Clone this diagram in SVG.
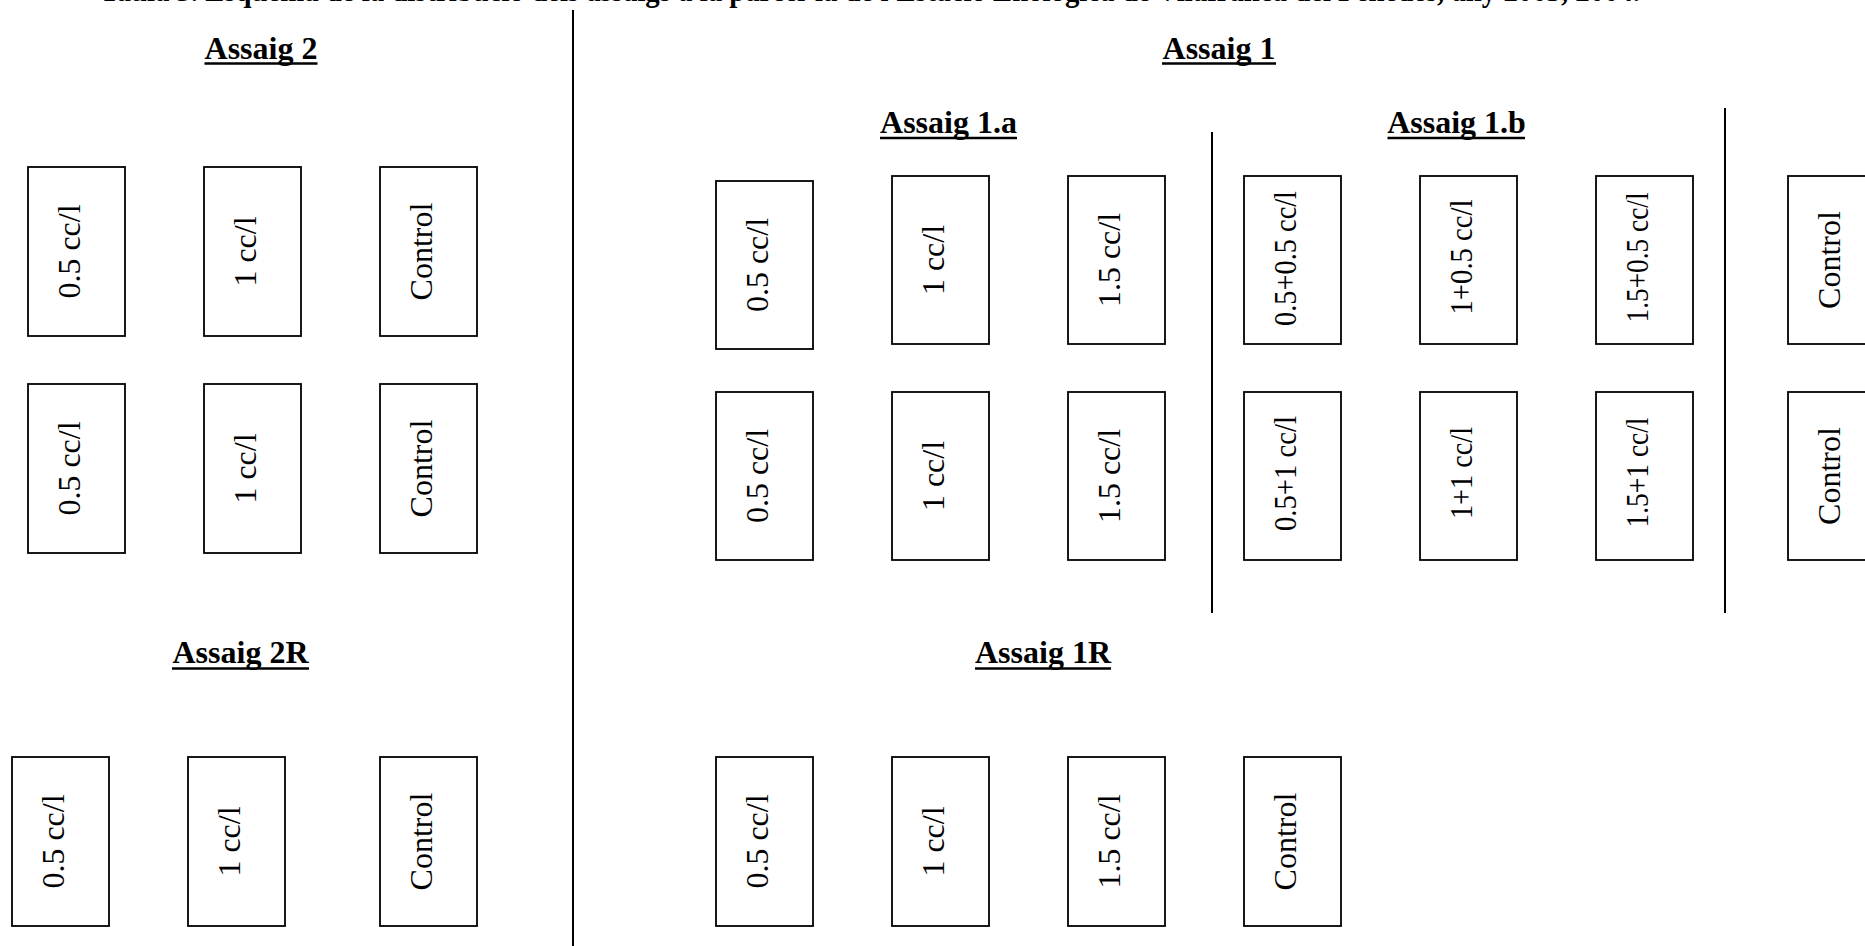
<svg xmlns="http://www.w3.org/2000/svg" width="1865" height="946" viewBox="0 0 1865 946">
<style>
  .box { fill: #fff; stroke: #000; stroke-width: 1.8; }
  .lbl { font-family: "Liberation Serif", "Times New Roman", serif; font-size: 32px; fill: #000; text-anchor: middle; }
  .hd { font-family: "Liberation Serif", "Times New Roman", serif; font-size: 32px; font-weight: bold; fill: #000; text-anchor: middle; }
  .title { font-family: "Liberation Serif", "Times New Roman", serif; font-size: 32px; font-weight: bold; fill: #000; }
  .ul { stroke: #000; stroke-width: 2.6; }
  .div { stroke: #000; stroke-width: 2; }
</style>
<rect width="1865" height="946" fill="#fff"/>

<text class="title" x="100" y="0.5" textLength="1540" lengthAdjust="spacingAndGlyphs">Taula 5. Esquema de la distribució dels assaigs a la parcel·la de l'Estació Enològica de Vilafranca del Penedès, any 2003, 2004.</text>

<g id="connectors">
  <line class="div" x1="573" y1="10" x2="573" y2="946"/>
  <line class="div" x1="1212" y1="132" x2="1212" y2="613"/>
  <line class="div" x1="1725" y1="108" x2="1725" y2="613"/>
</g>

<g id="headings">
  <g id="h-assaig2"><text class="hd" x="261" y="59">Assaig 2</text><line class="ul" x1="204.5" y1="63.5" x2="317.5" y2="63.5"/></g>
  <g id="h-assaig1"><text class="hd" x="1219" y="59">Assaig 1</text><line class="ul" x1="1162" y1="63.5" x2="1276" y2="63.5"/></g>
  <g id="h-assaig1a"><text class="hd" x="948.5" y="133">Assaig 1.a</text><line class="ul" x1="880" y1="138" x2="1017" y2="138"/></g>
  <g id="h-assaig1b"><text class="hd" x="1456.5" y="133">Assaig 1.b</text><line class="ul" x1="1387.5" y1="138" x2="1525" y2="138"/></g>
  <g id="h-assaig2r"><text class="hd" x="240.5" y="663">Assaig 2R</text><line class="ul" x1="172" y1="668.5" x2="309" y2="668.5"/></g>
  <g id="h-assaig1r"><text class="hd" x="1043" y="663">Assaig 1R</text><line class="ul" x1="975" y1="668.5" x2="1111" y2="668.5"/></g>
</g>

<!-- Assaig 2 -->
<g id="a2-r1c1"><rect class="box" x="28" y="167" width="97" height="169"/><text class="lbl" transform="translate(80,251.5) rotate(-90)">0.5 cc/l</text></g>
<g id="a2-r1c2"><rect class="box" x="204" y="167" width="97" height="169"/><text class="lbl" transform="translate(256,251.5) rotate(-90)">1 cc/l</text></g>
<g id="a2-r1c3"><rect class="box" x="380" y="167" width="97" height="169"/><text class="lbl" transform="translate(432,251.5) rotate(-90)">Control</text></g>
<g id="a2-r2c1"><rect class="box" x="28" y="384" width="97" height="169"/><text class="lbl" transform="translate(80,468.5) rotate(-90)">0.5 cc/l</text></g>
<g id="a2-r2c2"><rect class="box" x="204" y="384" width="97" height="169"/><text class="lbl" transform="translate(256,468.5) rotate(-90)">1 cc/l</text></g>
<g id="a2-r2c3"><rect class="box" x="380" y="384" width="97" height="169"/><text class="lbl" transform="translate(432,468.5) rotate(-90)">Control</text></g>

<!-- Assaig 2R -->
<g id="a2r-c1"><rect class="box" x="12" y="757" width="97" height="169"/><text class="lbl" transform="translate(64,841.5) rotate(-90)">0.5 cc/l</text></g>
<g id="a2r-c2"><rect class="box" x="188" y="757" width="97" height="169"/><text class="lbl" transform="translate(240,841.5) rotate(-90)">1 cc/l</text></g>
<g id="a2r-c3"><rect class="box" x="380" y="757" width="97" height="169"/><text class="lbl" transform="translate(432,841.5) rotate(-90)">Control</text></g>

<!-- Assaig 1.a -->
<g id="a1a-r1c1"><rect class="box" x="716" y="181" width="97" height="168"/><text class="lbl" transform="translate(768,265) rotate(-90)">0.5 cc/l</text></g>
<g id="a1a-r1c2"><rect class="box" x="892" y="176" width="97" height="168"/><text class="lbl" transform="translate(944,260) rotate(-90)">1 cc/l</text></g>
<g id="a1a-r1c3"><rect class="box" x="1068" y="176" width="97" height="168"/><text class="lbl" transform="translate(1120,260) rotate(-90)">1.5 cc/l</text></g>
<g id="a1a-r2c1"><rect class="box" x="716" y="392" width="97" height="168"/><text class="lbl" transform="translate(768,476) rotate(-90)">0.5 cc/l</text></g>
<g id="a1a-r2c2"><rect class="box" x="892" y="392" width="97" height="168"/><text class="lbl" transform="translate(944,476) rotate(-90)">1 cc/l</text></g>
<g id="a1a-r2c3"><rect class="box" x="1068" y="392" width="97" height="168"/><text class="lbl" transform="translate(1120,476) rotate(-90)">1.5 cc/l</text></g>

<!-- Assaig 1.b -->
<g id="a1b-r1c1"><rect class="box" x="1244" y="176" width="97" height="168"/><text class="lbl" transform="translate(1296,258.5) rotate(-90)" textLength="135" lengthAdjust="spacingAndGlyphs">0.5+0.5 cc/l</text></g>
<g id="a1b-r1c2"><rect class="box" x="1420" y="176" width="97" height="168"/><text class="lbl" transform="translate(1472,257) rotate(-90)" textLength="115" lengthAdjust="spacingAndGlyphs">1+0.5 cc/l</text></g>
<g id="a1b-r1c3"><rect class="box" x="1596" y="176" width="97" height="168"/><text class="lbl" transform="translate(1648,257.5) rotate(-90)" textLength="130" lengthAdjust="spacingAndGlyphs">1.5+0.5 cc/l</text></g>
<g id="a1b-r2c1"><rect class="box" x="1244" y="392" width="97" height="168"/><text class="lbl" transform="translate(1296,473.5) rotate(-90)" textLength="115" lengthAdjust="spacingAndGlyphs">0.5+1 cc/l</text></g>
<g id="a1b-r2c2"><rect class="box" x="1420" y="392" width="97" height="168"/><text class="lbl" transform="translate(1472,473) rotate(-90)" textLength="92" lengthAdjust="spacingAndGlyphs">1+1 cc/l</text></g>
<g id="a1b-r2c3"><rect class="box" x="1596" y="392" width="97" height="168"/><text class="lbl" transform="translate(1648,472.5) rotate(-90)" textLength="110" lengthAdjust="spacingAndGlyphs">1.5+1 cc/l</text></g>

<!-- Control column -->
<g id="a1-ctrl1"><rect class="box" x="1788" y="176" width="97" height="168"/><text class="lbl" transform="translate(1840,260) rotate(-90)">Control</text></g>
<g id="a1-ctrl2"><rect class="box" x="1788" y="392" width="97" height="168"/><text class="lbl" transform="translate(1840,476) rotate(-90)">Control</text></g>

<!-- Assaig 1R -->
<g id="a1r-c1"><rect class="box" x="716" y="757" width="97" height="169"/><text class="lbl" transform="translate(768,841.5) rotate(-90)">0.5 cc/l</text></g>
<g id="a1r-c2"><rect class="box" x="892" y="757" width="97" height="169"/><text class="lbl" transform="translate(944,841.5) rotate(-90)">1 cc/l</text></g>
<g id="a1r-c3"><rect class="box" x="1068" y="757" width="97" height="169"/><text class="lbl" transform="translate(1120,841.5) rotate(-90)">1.5 cc/l</text></g>
<g id="a1r-c4"><rect class="box" x="1244" y="757" width="97" height="169"/><text class="lbl" transform="translate(1296,841.5) rotate(-90)">Control</text></g>
</svg>
